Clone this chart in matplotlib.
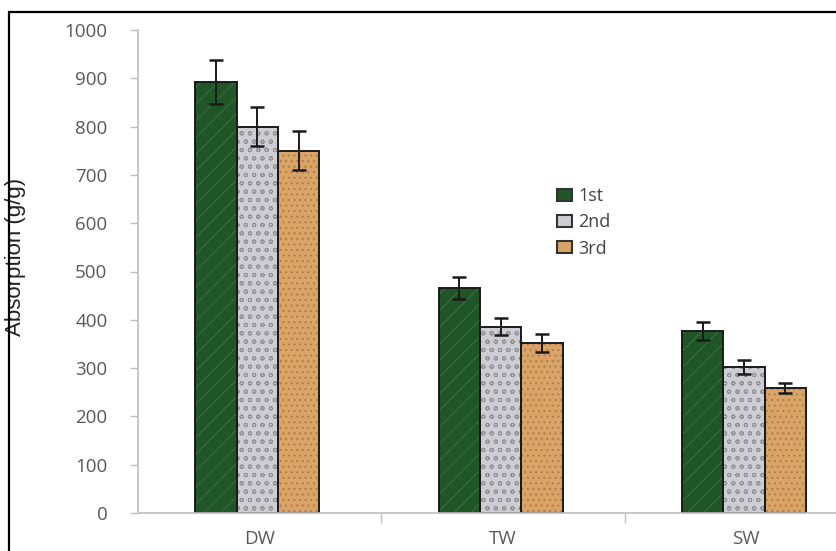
import numpy as np
import matplotlib.pyplot as plt
from matplotlib.patches import Rectangle, Patch

CATEGORIES = ["DW", "TW", "SW"]
SERIES = ["1st", "2nd", "3rd"]
VALUES = {
    "1st": [892, 466, 377],
    "2nd": [800, 386, 302],
    "3rd": [750, 352, 259],
}
ERRORS = {
    "1st": [45, 23, 18],
    "2nd": [40, 18, 15],
    "3rd": [40, 18, 11],
}
Y_TICKS = [0, 100, 200, 300, 400, 500, 600, 700, 800, 900, 1000]

FACE = {"1st": "#1f5527", "2nd": "#cdcdd2", "3rd": "#d9a468"}
HATCH_COLOR = {"1st": "#3d7443", "2nd": "#8f8f98", "3rd": "#b27a40"}
HATCH = {"1st": "//", "2nd": "oo", "3rd": "..."}
BAR_W = 0.17
W, H = 837, 551

plt.rcParams["hatch.linewidth"] = 0.7


def main():
    fig = plt.figure(figsize=(W / 100, H / 100), dpi=100)
    ax = fig.add_axes([138 / W, 38 / H, 730 / W, 483 / H])
    x = np.arange(len(CATEGORIES))

    for i, s in enumerate(SERIES):
        pos = x + (i - 1) * BAR_W - 0.01
        # textured fill, then a dark outline on top
        ax.bar(pos, VALUES[s], BAR_W, color=FACE[s], edgecolor=HATCH_COLOR[s],
               linewidth=0, hatch=HATCH[s], zorder=2)
        ax.bar(pos, VALUES[s], BAR_W, fill=False, edgecolor="#1a1a1a",
               linewidth=1.4, zorder=2.5)
        ax.errorbar(pos, VALUES[s], yerr=ERRORS[s], fmt="none", ecolor="#1a1a1a",
                    elinewidth=1.4, capsize=5, capthick=1.8, zorder=3)

    ax.set_xlim(-0.5, 2.5)
    ax.set_ylim(0, 1000)
    ax.set_yticks(Y_TICKS)
    ax.set_yticklabels([str(t) for t in Y_TICKS], fontsize=13.5, color="#595959",
                       family="Open Sans")
    ax.tick_params(axis="y", length=6, width=1, color="#bfbfbf", pad=16)

    ax.set_xticks([0.5, 1.5])
    ax.set_xticklabels([])
    ax.tick_params(axis="x", length=7, width=1, color="#bfbfbf")
    ax.set_xticks(x, minor=True)
    ax.set_xticklabels(CATEGORIES, minor=True, fontsize=13.5, color="#595959",
                       family="Open Sans")
    ax.tick_params(axis="x", which="minor", length=0, pad=12)

    for side in ["top", "right"]:
        ax.spines[side].set_visible(False)
    for side in ["left", "bottom"]:
        ax.spines[side].set_color("#bfbfbf")
        ax.spines[side].set_linewidth(1.2)

    ax.set_ylabel("Absorption (g/g)", fontsize=16, family="Liberation Sans",
                  color="#222222")
    ax.yaxis.set_label_coords(-112 / 730, 0.53)

    handles = [Patch(facecolor=FACE[s], edgecolor="#333333", linewidth=1.5)
               for s in SERIES]
    leg = fig.legend(handles, SERIES, loc="upper left",
                     bbox_to_anchor=(541 / W, 1 - 171 / H), frameon=False,
                     prop={"family": "Open Sans", "size": 13},
                     handlelength=0.8, handleheight=0.65, handletextpad=0.35,
                     labelspacing=0.45)
    for t in leg.get_texts():
        t.set_color("#444444")

    fig.patches.append(Rectangle((9 / W, -0.1), 1.2, 1 - 12 / H + 0.1,
                                 transform=fig.transFigure, fill=False,
                                 edgecolor="black", linewidth=1.6))
    fig.savefig("out.png", dpi=100)


if __name__ == "__main__":
    main()
